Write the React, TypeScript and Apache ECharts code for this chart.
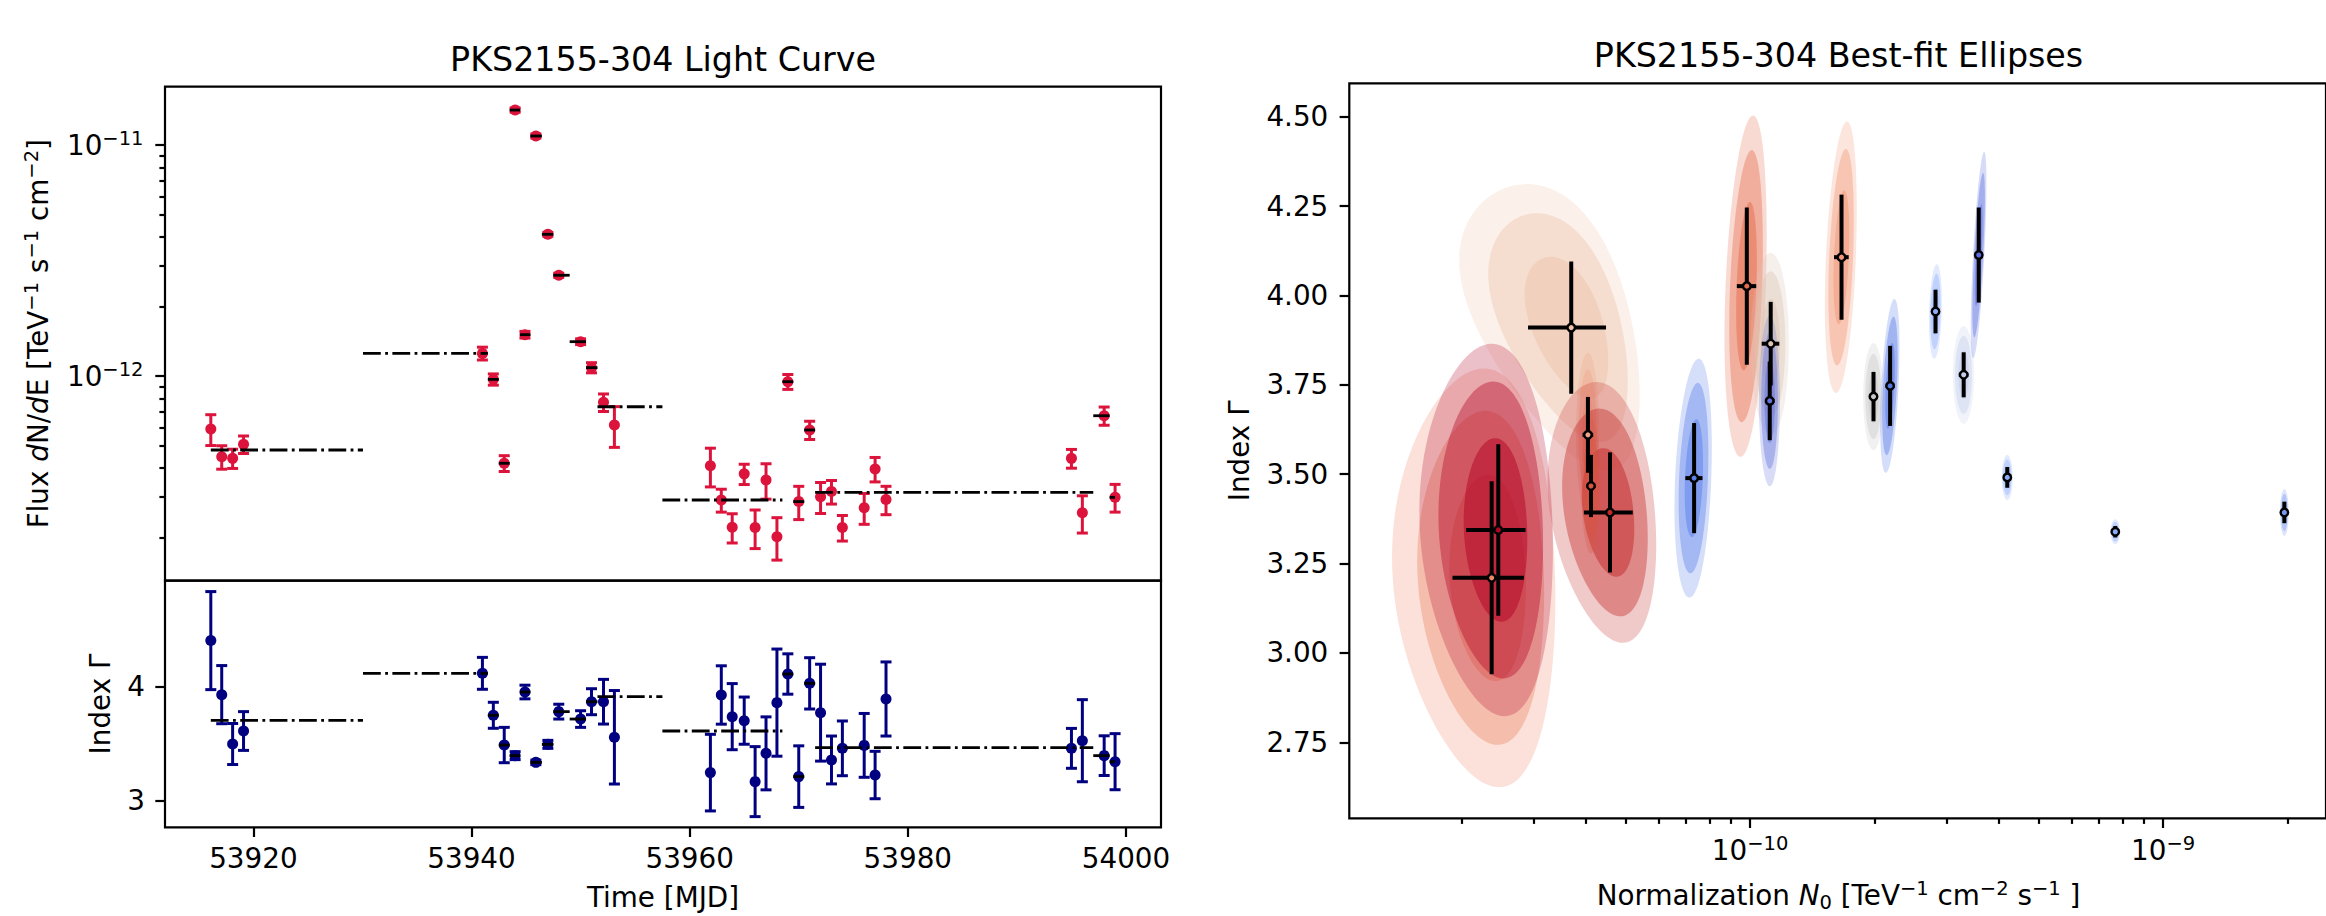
import React, { useEffect, useRef } from "react";
import * as echarts from "echarts";

const FONT = "DejaVu Sans";

// ---------------- Light curve (left) ----------------
const mjd = [53916.1, 53917.1, 53918.1, 53919.1, 53941.0, 53942.0, 53943.0, 53944.0, 53944.9, 53945.9, 53947.0, 53948.0, 53950.0, 53951.0, 53952.1, 53953.1, 53961.9, 53962.9, 53963.9, 53965.0, 53966.0, 53967.0, 53968.0, 53969.0, 53970.0, 53971.0, 53972.0, 53973.0, 53974.0, 53976.0, 53977.0, 53978.0, 53995.0, 53996.0, 53998.0, 53999.0];
// flux in units of 1e-12 TeV^-1 s^-1 cm^-2
const fluxE12 = [0.590, 0.447, 0.440, 0.506, 1.253, 0.967, 0.419, 14.17, 1.51, 10.94, 4.106, 2.73, 1.408, 1.087, 0.769, 0.614, 0.409, 0.2905, 0.2213, 0.377, 0.221, 0.355, 0.2016, 0.945, 0.286, 0.584, 0.300, 0.316, 0.221, 0.269, 0.396, 0.292, 0.440, 0.256, 0.673, 0.2985];
const fluxErrE12 = [0.090, 0.052, 0.042, 0.044, 0.080, 0.054, 0.033, 0.30, 0.05, 0.22, 0.08, 0.055, 0.04, 0.055, 0.067, 0.123, 0.078, 0.033, 0.032, 0.038, 0.042, 0.062, 0.042, 0.070, 0.047, 0.053, 0.046, 0.037, 0.028, 0.041, 0.048, 0.041, 0.041, 0.047, 0.061, 0.041];
const indexVals = [4.404, 3.930, 3.497, 3.611, 4.117, 3.749, 3.488, 3.395, 3.953, 3.336, 3.494, 3.781, 3.716, 3.868, 3.868, 3.556, 3.246, 3.927, 3.737, 3.702, 3.167, 3.415, 3.860, 4.111, 3.211, 4.029, 3.772, 3.357, 3.459, 3.485, 3.225, 3.892, 3.459, 3.526, 3.395, 3.342];
const indexErr = [0.43, 0.255, 0.18, 0.17, 0.14, 0.114, 0.155, 0.035, 0.06, 0.02, 0.035, 0.065, 0.073, 0.114, 0.196, 0.41, 0.336, 0.256, 0.29, 0.207, 0.307, 0.32, 0.47, 0.177, 0.27, 0.225, 0.425, 0.21, 0.24, 0.28, 0.208, 0.325, 0.175, 0.36, 0.174, 0.246];

// Bayesian blocks (edges + levels)
const blockEdges = [53916.1, 53930.05, 53941.5, 53942.5, 53943.5, 53944.45, 53945.4, 53946.45, 53947.5, 53949.0, 53950.5, 53951.55, 53957.5, 53968.5, 53969.5, 53970.5, 53971.5, 53997.0, 53998.5, 53999.0];
const blockFluxE12 = [0.4784, 1.253, 0.967, 0.419, 14.17, 1.51, 10.94, 4.106, 2.73, 1.408, 1.087, 0.736, 0.2905, 0.945, 0.286, 0.584, 0.3135, 0.673, 0.2985];
const blockIndex = [3.705, 4.117, 3.749, 3.488, 3.395, 3.953, 3.336, 3.494, 3.781, 3.716, 3.868, 3.912, 3.611, 4.111, 3.211, 4.029, 3.465, 3.395, 3.342];

const timeTicks = [53920, 53940, 53960, 53980, 54000];
const fluxDecades = [-12, -11];
const indexTicks = [3, 4];

// ---------------- Best-fit ellipses (right) ----------------
// normalization in units of 1e-11 TeV^-1 cm^-2 s^-1
const normE11 = [3.69, 2.368, 2.457, 4.05, 4.58, 4.12, 7.32, 9.82, 11.22, 11.16, 16.65, 19.9, 21.83, 28.12, 32.9, 35.78, 41.95, 76.6, 196.6];
const normErrE11 = [0.79, 0.465, 0.403, 0.12, 0.62, 0.10, 0.35, 0.53, 0.55, 0.30, 0.68, 0.51, 0.54, 0.465, 0.89, 0.72, 0.59, 0.93, 2.2];
const gammaVals = [3.910, 3.210, 3.344, 3.610, 3.393, 3.467, 3.489, 4.026, 3.865, 3.705, 4.107, 3.717, 3.747, 3.955, 3.778, 4.113, 3.491, 3.339, 3.393];
const gammaErr = [0.185, 0.27, 0.24, 0.106, 0.168, 0.087, 0.154, 0.22, 0.117, 0.11, 0.175, 0.069, 0.112, 0.061, 0.063, 0.133, 0.029, 0.016, 0.03];
const corrVals = [-0.47, -0.1, -0.1, 0, -0.25, 0, 0.25, 0.3, 0, 0, 0.35, 0, 0.45, 0.2, 0, 0.7, 0, 0, 0];

const normDecades = [-10, -9];
const gammaTicks = [2.75, 3.0, 3.25, 3.5, 3.75, 4.0, 4.25, 4.5];

// styles
const ellipseColors = ["#EEC3AA", "#EE8769", "#B40426", "#F0A58A", "#C32828", "#D75541", "#5A80EB", "#E66C4E", "#DCC5B5", "#6473DC", "#F29676", "#C8C8C8", "#5578E6", "#8CACFA", "#C3CEEB", "#5A6EE1", "#8CACFA", "#8CACFA", "#7896F0"];
const sigmaLevels = [2.17, 1.73, 1.07];
const levelAlpha = [0.25, 0.4, 0.5];
const RED = "#DC143C";
const NAVY = "#000080";

const T_MIN = 53911.9, T_MAX = 54003.21;
const LF_MIN = -12.8861, LF_MAX = -10.7476;
const IX_MIN = 2.7664, IX_MAX = 4.9295;
const LN_MIN = -10.9703, LN_MAX = -8.6056;
const G_MIN = 2.5374, G_MAX = 4.5934;

const TICK_FS = 27.8;
const SUP_FS = 19.5;

function hexToRgba(hex: string, a: number) {
  const n = parseInt(hex.slice(1), 16);
  return `rgba(${(n >> 16) & 255},${(n >> 8) & 255},${n & 255},${a})`;
}

const richTick = {
  b: { fontSize: TICK_FS, lineHeight: 34, fontFamily: FONT, color: "#000" },
  s: { fontSize: SUP_FS, lineHeight: 21, verticalAlign: "top", fontFamily: FONT, color: "#000" },
};
const richName = {
  it: { fontSize: TICK_FS, lineHeight: 34, fontFamily: FONT, fontStyle: "italic", color: "#000" },
  sup: { fontSize: SUP_FS, lineHeight: 21, verticalAlign: "top", fontFamily: FONT, color: "#000" },
  sub: { fontSize: SUP_FS, lineHeight: 21, verticalAlign: "bottom", fontFamily: FONT, color: "#000" },
};

const minorLog = (lo: number, hi: number) => {
  const out: number[] = [];
  for (let d = Math.floor(lo) - 1; d <= Math.ceil(hi); d++) {
    for (let k = 2; k <= 9; k++) {
      const v = d + Math.log10(k);
      if (v > lo && v < hi) out.push(v);
    }
  }
  return out;
};

const tickLine = { color: "#000", width: 2.2 };
const noAxisParts = { axisLine: { show: false }, splitLine: { show: false } };

function buildOption() {
  const gridBox = { show: true, borderColor: "#000", borderWidth: 2.2, backgroundColor: "transparent" };

  const errRender = (color: string) => (params: any, api: any) => {
    const x = api.value(0);
    const p1 = api.coord([x, api.value(2)]);
    const p2 = api.coord([x, api.value(3)]);
    const cw = 5.5;
    const st = { stroke: color, lineWidth: 3 };
    return {
      type: "group",
      children: [
        { type: "line", shape: { x1: p1[0], y1: p1[1], x2: p2[0], y2: p2[1] }, style: st },
        { type: "line", shape: { x1: p1[0] - cw, y1: p1[1], x2: p1[0] + cw, y2: p1[1] }, style: st },
        { type: "line", shape: { x1: p2[0] - cw, y1: p2[1], x2: p2[0] + cw, y2: p2[1] }, style: st },
      ],
    };
  };

  const blockRender = (params: any, api: any) => {
    const a = api.coord([api.value(0), api.value(2)]);
    const b = api.coord([api.value(1), api.value(2)]);
    return {
      type: "line",
      shape: { x1: a[0], y1: a[1], x2: b[0], y2: b[1] },
      style: { stroke: "#000", lineWidth: 2.8, lineDash: [17.8, 4.4, 2.8, 4.4] },
    };
  };

  const ellipseRender = (params: any, api: any) => {
    const i = api.value(2);
    const n0 = normE11[i] * 1e-11;
    const sn = normErrE11[i] * 1e-11;
    const g0 = gammaVals[i];
    const sg = gammaErr[i];
    const r = corrVals[i];
    const children = sigmaLevels.map((k, li) => {
      const pts: number[][] = [];
      const N = 120;
      for (let j = 0; j < N; j++) {
        const t = (j / N) * Math.PI * 2;
        const n = n0 + k * sn * Math.cos(t);
        const g = g0 + k * sg * (r * Math.cos(t) + Math.sqrt(1 - r * r) * Math.sin(t));
        pts.push(api.coord([Math.log10(n), g]));
      }
      return { type: "polygon", shape: { points: pts }, style: { fill: hexToRgba(ellipseColors[i], levelAlpha[li]), stroke: "none" } };
    });
    return { type: "group", children };
  };

  const ellErrRender = (params: any, api: any) => {
    const i = api.value(2);
    const n0 = normE11[i] * 1e-11;
    const sn = normErrE11[i] * 1e-11;
    const g0 = gammaVals[i];
    const sg = gammaErr[i];
    const lx = Math.log10(n0);
    const a = api.coord([Math.log10(n0 - sn), g0]);
    const b = api.coord([Math.log10(n0 + sn), g0]);
    const c = api.coord([lx, g0 - sg]);
    const d = api.coord([lx, g0 + sg]);
    const st = { stroke: "#000", lineWidth: 4 };
    return {
      type: "group",
      children: [
        { type: "line", shape: { x1: a[0], y1: a[1], x2: b[0], y2: b[1] }, style: st },
        { type: "line", shape: { x1: c[0], y1: c[1], x2: d[0], y2: d[1] }, style: st },
      ],
    };
  };

  const lf = (v: number) => Math.log10(v * 1e-12);

  const option: any = {
    animation: false,
    backgroundColor: "#ffffff",
    textStyle: { fontFamily: FONT },
    grid: [
      { left: 165, top: 86.7, width: 996, height: 494, ...gridBox },
      { left: 165, top: 580.7, width: 996, height: 246.6, ...gridBox },
      { left: 1349.3, top: 83.3, width: 980, height: 735, ...gridBox },
    ],
    xAxis: [
      { type: "value", gridIndex: 0, min: T_MIN, max: T_MAX, position: "bottom", ...noAxisParts, axisTick: { show: false }, axisLabel: { show: false } },
      {
        type: "value", gridIndex: 1, min: T_MIN, max: T_MAX, position: "bottom", ...noAxisParts,
        axisTick: { show: true, customValues: timeTicks, length: 9.7, lineStyle: tickLine },
        axisLabel: { show: true, customValues: timeTicks, margin: 14, fontSize: TICK_FS, lineHeight: 34, color: "#000", fontFamily: FONT, formatter: (v: number) => String(Math.round(v)) },
      },
      {
        type: "value", gridIndex: 2, min: LN_MIN, max: LN_MAX, position: "bottom", ...noAxisParts,
        axisTick: { show: true, customValues: normDecades, length: 9.7, lineStyle: tickLine },
        axisLabel: { show: true, customValues: normDecades, margin: 14.7, color: "#000", formatter: (v: number) => `{b|10}{s|\u2212${Math.abs(Math.round(v))}}`, rich: richTick },
      },
      {
        type: "value", gridIndex: 2, min: LN_MIN, max: LN_MAX, position: "bottom", ...noAxisParts,
        axisTick: { show: true, customValues: minorLog(LN_MIN, LN_MAX), length: 5.6, lineStyle: tickLine },
        axisLabel: { show: false },
      },
    ],
    yAxis: [
      {
        type: "value", gridIndex: 0, min: LF_MIN, max: LF_MAX, position: "left", ...noAxisParts,
        axisTick: { show: true, customValues: fluxDecades, length: 9.7, lineStyle: tickLine },
        axisLabel: { show: true, customValues: fluxDecades, margin: 21.5, color: "#000", formatter: (v: number) => `{b|10}{s|\u2212${Math.abs(Math.round(v))}}`, rich: richTick },
      },
      {
        type: "value", gridIndex: 0, min: LF_MIN, max: LF_MAX, position: "left", ...noAxisParts,
        axisTick: { show: true, customValues: minorLog(LF_MIN, LF_MAX), length: 5.6, lineStyle: tickLine },
        axisLabel: { show: false },
      },
      {
        type: "value", gridIndex: 1, min: IX_MIN, max: IX_MAX, position: "left", ...noAxisParts,
        axisTick: { show: true, customValues: indexTicks, length: 9.7, lineStyle: tickLine },
        axisLabel: { show: true, customValues: indexTicks, margin: 20, fontSize: TICK_FS, lineHeight: 34, color: "#000", fontFamily: FONT, formatter: (v: number) => String(Math.round(v)) },
      },
      {
        type: "value", gridIndex: 2, min: G_MIN, max: G_MAX, position: "left", ...noAxisParts,
        axisTick: { show: true, customValues: gammaTicks, length: 9.7, lineStyle: tickLine },
        axisLabel: { show: true, customValues: gammaTicks, margin: 21, fontSize: TICK_FS, lineHeight: 34, color: "#000", fontFamily: FONT, formatter: (v: number) => v.toFixed(2) },
      },
    ],
    series: [
      // upper light curve
      {
        type: "custom", xAxisIndex: 0, yAxisIndex: 0, z: 2, silent: true,
        data: mjd.map((t, i) => [t, lf(fluxE12[i]), lf(fluxE12[i] - fluxErrE12[i]), lf(fluxE12[i] + fluxErrE12[i])]),
        encode: { x: 0, y: [2, 3] },
        renderItem: errRender(RED),
      },
      {
        type: "scatter", xAxisIndex: 0, yAxisIndex: 0, z: 3, silent: true, symbol: "circle", symbolSize: 11,
        itemStyle: { color: RED, opacity: 1 },
        data: mjd.map((t, i) => [t, lf(fluxE12[i])]),
      },
      {
        type: "custom", xAxisIndex: 0, yAxisIndex: 0, z: 4, silent: true,
        data: blockFluxE12.map((f, i) => [blockEdges[i], blockEdges[i + 1], lf(f)]),
        encode: { x: [0, 1], y: 2 },
        renderItem: blockRender,
      },
      // lower index curve
      {
        type: "custom", xAxisIndex: 1, yAxisIndex: 2, z: 2, silent: true,
        data: mjd.map((t, i) => [t, indexVals[i], indexVals[i] - indexErr[i], indexVals[i] + indexErr[i]]),
        encode: { x: 0, y: [2, 3] },
        renderItem: errRender(NAVY),
      },
      {
        type: "scatter", xAxisIndex: 1, yAxisIndex: 2, z: 3, silent: true, symbol: "circle", symbolSize: 11,
        itemStyle: { color: NAVY, opacity: 1 },
        data: mjd.map((t, i) => [t, indexVals[i]]),
      },
      {
        type: "custom", xAxisIndex: 1, yAxisIndex: 2, z: 4, silent: true,
        data: blockIndex.map((g, i) => [blockEdges[i], blockEdges[i + 1], g]),
        encode: { x: [0, 1], y: 2 },
        renderItem: blockRender,
      },
      // ellipses
      {
        type: "custom", xAxisIndex: 2, yAxisIndex: 3, z: 1, silent: true,
        data: normE11.map((n, i) => [Math.log10(n * 1e-11), gammaVals[i], i]),
        encode: { x: 0, y: 1 },
        renderItem: ellipseRender,
      },
      {
        type: "custom", xAxisIndex: 2, yAxisIndex: 3, z: 2, silent: true,
        data: normE11.map((n, i) => [Math.log10(n * 1e-11), gammaVals[i], i]),
        encode: { x: 0, y: 1 },
        renderItem: ellErrRender,
      },
      {
        type: "scatter", xAxisIndex: 2, yAxisIndex: 3, z: 3, silent: true, symbol: "circle", symbolSize: 7.5,
        itemStyle: { color: (p: any) => ellipseColors[p.dataIndex], borderColor: "#000", borderWidth: 2.4, opacity: 1 },
        data: normE11.map((n, i) => [Math.log10(n * 1e-11), gammaVals[i]]),
      },
    ],
    graphic: [
      {
        type: "text", x: 663, y: 59, silent: true,
        style: { text: "PKS2155-304 Light Curve", fontSize: 33.3, fontFamily: FONT, fill: "#000", textAlign: "center", textVerticalAlign: "middle", align: "center", verticalAlign: "middle" },
      },
      {
        type: "text", x: 1838.5, y: 55, silent: true,
        style: { text: "PKS2155-304 Best-fit Ellipses", fontSize: 33.3, fontFamily: FONT, fill: "#000", textAlign: "center", textVerticalAlign: "middle", align: "center", verticalAlign: "middle" },
      },
      {
        type: "text", x: 663, y: 897.4, silent: true,
        style: { text: "Time [MJD]", fontSize: TICK_FS, fontFamily: FONT, fill: "#000", textAlign: "center", textVerticalAlign: "middle", align: "center", verticalAlign: "middle" },
      },
      {
        type: "text", x: 38.5, y: 333.7, rotation: Math.PI / 2, silent: true,
        style: {
          text: "Flux {it|d}N/{it|d}E [TeV{sup|\u22121} s{sup|\u22121} cm{sup|\u22122}]",
          rich: richName, fontSize: TICK_FS, lineHeight: 34, fontFamily: FONT, fill: "#000",
          textAlign: "center", textVerticalAlign: "middle", align: "center", verticalAlign: "middle",
        },
      },
      {
        type: "text", x: 100.5, y: 704, rotation: Math.PI / 2, silent: true,
        style: { text: "Index \u0393", fontSize: TICK_FS, fontFamily: FONT, fill: "#000", textAlign: "center", textVerticalAlign: "middle", align: "center", verticalAlign: "middle" },
      },
      {
        type: "text", x: 1239.5, y: 450.8, rotation: Math.PI / 2, silent: true,
        style: { text: "Index \u0393", fontSize: TICK_FS, fontFamily: FONT, fill: "#000", textAlign: "center", textVerticalAlign: "middle", align: "center", verticalAlign: "middle" },
      },
      {
        type: "text", x: 1838.5, y: 895, silent: true,
        style: {
          text: "Normalization {it|N}{sub|0} [TeV{sup|\u22121} cm{sup|\u22122} s{sup|\u22121} ]",
          rich: richName, fontSize: TICK_FS, lineHeight: 34, fontFamily: FONT, fill: "#000",
          textAlign: "center", textVerticalAlign: "middle", align: "center", verticalAlign: "middle",
        },
      },
    ],
  };
  return option;
}

export default function App() {
  const ref = useRef<HTMLDivElement>(null);
  useEffect(() => {
    if (!ref.current) return;
    const chart = echarts.init(ref.current, null, { renderer: "svg" });
    chart.setOption(buildOption());
    return () => {
      chart.dispose();
    };
  }, []);
  return (
    <div
      ref={ref}
      style={{ position: "absolute", left: 0, top: 0, width: 2326, height: 916, background: "#fff" }}
    />
  );
}
